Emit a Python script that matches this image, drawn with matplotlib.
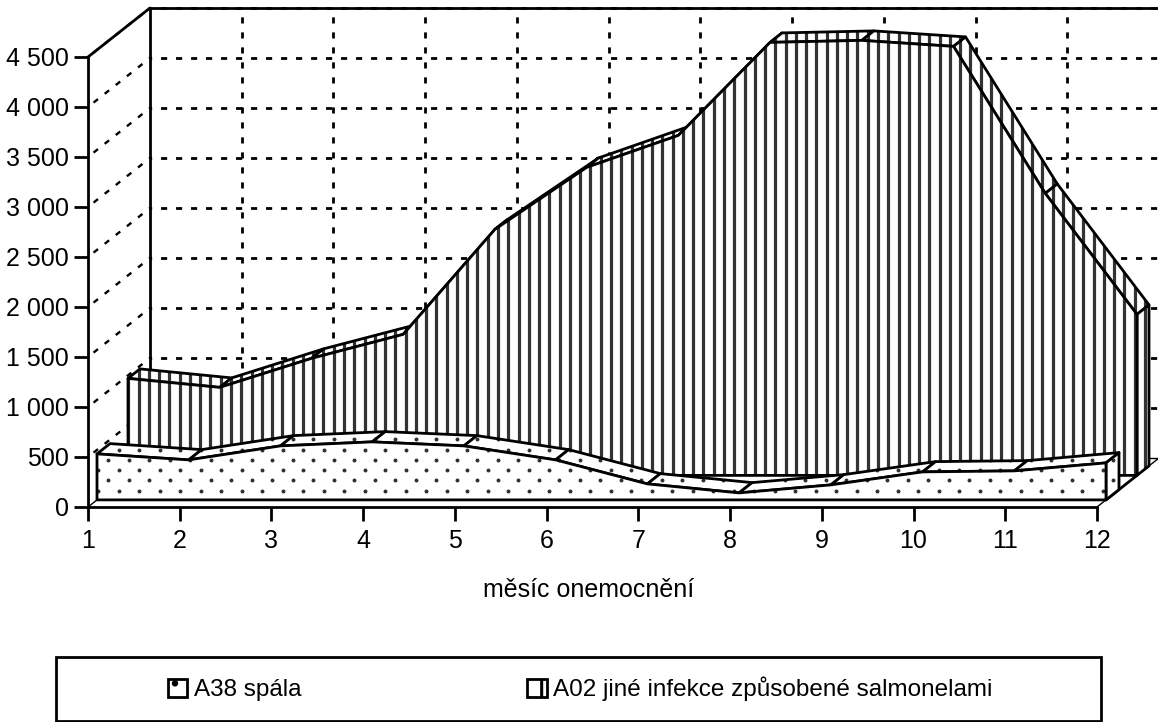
import numpy as np
import matplotlib
matplotlib.use('Agg')
import matplotlib.pyplot as plt
from matplotlib.patches import Polygon, Patch, Rectangle

# values
months = [1, 2, 3, 4, 5, 6, 7, 8, 9, 10, 11, 12]
a38_spala = [460, 400, 540, 580, 540, 400, 160, 70, 150, 280, 290, 370]
a02_salmonely = [970, 880, 1170, 1410, 2460, 3080, 3400, 4330, 4350, 4290, 2820, 1610]
y_ticks = [0, 500, 1000, 1500, 2000, 2500, 3000, 3500, 4000, 4500]
y_labels = ['0', '500', '1 000', '1 500', '2 000', '2 500', '3 000', '3 500', '4 000', '4 500']
x_title = 'měsíc onemocnění'
legend_labels = ['A38 spála', 'A02 jiné infekce způsobené salmonelami']

plt.rcParams['font.family'] = ['Liberation Sans', 'DejaVu Sans']
plt.rcParams['hatch.linewidth'] = 2.2

W, H = 1158, 722
PX_MONTH = (1097 - 88) / 11
PX_VALUE = 0.1
LW = 2.0

fig = plt.figure(figsize=(W / 100, H / 100), dpi=100)
ax = fig.add_axes([88 / W, (H - 507) / H, (1097 - 88) / W, 450 / H])
ax.set_xlim(1, 12)
ax.set_ylim(0, 4500)

order = [1]


def z():
    # painter's order: everything stacks in the order it is drawn
    order[0] += 1
    return order[0]


def project(month, value, depth):
    # depth 0 = front plane, 1 = back wall
    return month + depth * 62 / PX_MONTH, value + depth * 49 / PX_VALUE


def line(p, q, **kw):
    style = dict(color='k', lw=LW, clip_on=False, solid_capstyle='round', zorder=z())
    style.update(kw)
    ax.plot([p[0], q[0]], [p[1], q[1]], **style)


def face(verts, texture):
    poly = Polygon(verts, closed=True, facecolor='white', edgecolor='none',
                   clip_on=False, zorder=z())
    ax.add_patch(poly)
    xs = [v[0] for v in verts]
    ys = [v[1] for v in verts]
    if texture == 'stripes':
        start = 1 + (128.3 - 88) / PX_MONTH
        step = 10.27 / PX_MONTH
        k0 = np.floor((min(xs) - start) / step)
        k1 = np.ceil((max(xs) - start) / step)
        marks = ax.vlines(start + np.arange(k0, k1 + 1) * step, min(ys), max(ys),
                          color='#333333', lw=2.3, zorder=z())
    else:
        dx = 20.5 / PX_MONTH
        dy = 103
        px, py = [], []
        for r in range(int(max(ys) // dy) + 2):
            y0 = 163 + (r - 1) * dy
            x0 = 1 + (108.3 - 88) / PX_MONTH + (r % 2) * dx / 2
            for c in range(-1, 60):
                px.append(x0 + c * dx)
                py.append(y0)
        marks = ax.scatter(px, py, s=8, color='#303030', linewidths=0, zorder=z())
    marks.set_clip_box(None)
    marks.set_clip_path(poly)
    ax.add_patch(Polygon(verts, closed=True, fill=False, edgecolor='k', lw=LW,
                         joinstyle='round', clip_on=False, zorder=z()))


def area3d(values, d_front, d_back, texture):
    for i in range(len(months) - 1):
        a, b = months[i], months[i + 1]
        face([project(a, values[i], d_front), project(b, values[i + 1], d_front),
              project(b, values[i + 1], d_back), project(a, values[i], d_back)], texture)
    m, v = months[-1], values[-1]
    face([project(m, 0, d_front), project(m, v, d_front),
          project(m, v, d_back), project(m, 0, d_back)], texture)
    front = [project(months[0], 0, d_front)]
    front += [project(m, v, d_front) for m, v in zip(months, values)]
    front += [project(months[-1], 0, d_front)]
    face(front, texture)


# walls and grid
dash = (0, (2.2, 3.2))
for t in y_ticks[1:]:
    line(project(1, t, 0), project(1, t, 1), linestyle=(3, (2.4, 3.6)), lw=1.7)
    line(project(1, t, 1), project(12, t, 1), linestyle=(7, (2.2, 3.2)))
for m in months[1:-1]:
    line(project(m, 0, 1), project(m, 4500, 1), linestyle=dash)
line(project(1, 0, 1), project(1, 4500, 1))
line(project(1, 4500, 1), project(12, 4500, 1))
line(project(1, 4500, 0), project(1, 4500, 1))
line(project(12, 0, 1), project(12, 4500, 1), lw=0.8)
line(project(1, 0, 0), project(1, 0, 1), lw=1.0)
line(project(12, 0, 0), project(12, 0, 1), lw=1.0)
line(project(1, 0, 1), project(12, 0, 1), lw=1.0)

area3d(a02_salmonely, 40 / 62, 52 / 62, 'stripes')
line(project(12, 0, 9 / 62), project(12, 0, 40 / 62))
area3d(a38_spala, 9 / 62, 22 / 62, 'dots')

# axes
for s in ['top', 'right']:
    ax.spines[s].set_visible(False)
for s in ['left', 'bottom']:
    ax.spines[s].set_linewidth(LW)
    ax.spines[s].set_zorder(z())
ax.patch.set_visible(False)
ax.set_xticks(months)
ax.set_xticklabels([str(m) for m in months])
ax.set_yticks(y_ticks)
ax.set_yticklabels(y_labels)
ax.tick_params(axis='both', length=10, width=LW, labelsize=18)
ax.tick_params(axis='x', pad=6)
ax.tick_params(axis='y', pad=4)
ax.set_xlabel(x_title, fontsize=18, labelpad=18, x=0.4965)

# legend box
fig.add_artist(Rectangle((56 / W, 1 - 721 / H), (1101 - 56) / W, 64 / H, fill=False,
                         edgecolor='k', lw=LW, transform=fig.transFigure))
handles = [Patch(facecolor='white', edgecolor='k', lw=LW, hatch='.'),
           Patch(facecolor='white', edgecolor='k', lw=LW, hatch='|')]
fig.legend(handles, legend_labels, ncol=2, loc='center', frameon=False,
           bbox_to_anchor=(580 / W, 1 - 689 / H), fontsize=17.5,
           handlelength=0.8, handleheight=0.8, handletextpad=0.25, columnspacing=9.3)

fig.savefig('out.png', dpi=100)
